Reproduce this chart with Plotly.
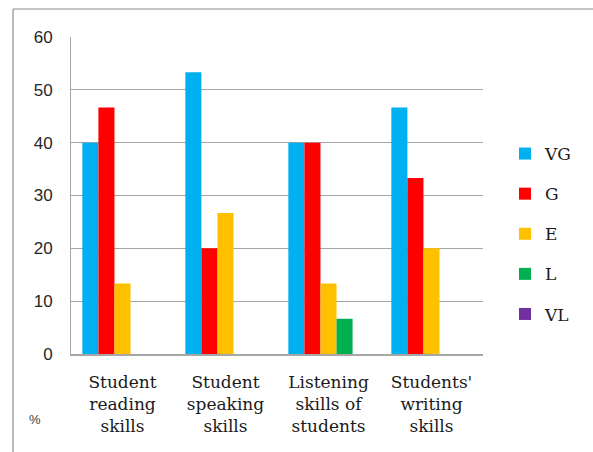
import plotly.graph_objects as go

# Skill categories (x axis) and rating levels (series)
categories = [
    "Student<br>reading<br>skills",
    "Student<br>speaking<br>skills",
    "Listening<br>skills of<br>students",
    "Students'<br>writing<br>skills",
]
levels = ["VG", "G", "E", "L", "VL"]

# Percentage of responses per level, in category order
vg = [40.0, 53.33, 40.0, 46.67]
g = [46.67, 20.0, 40.0, 33.33]
e = [13.33, 26.67, 13.33, 20.0]
l_ = [0.0, 0.0, 6.67, 0.0]
vl = [0.0, 0.0, 0.0, 0.0]

y_ticks = [0, 10, 20, 30, 40, 50, 60]

series = [vg, g, e, l_, vl]
colors = ["#00B0F0", "#FF0000", "#FFC000", "#00B050", "#7030A0"]

SERIF = "DejaVu Serif"
SANS = "Liberation Sans"

fig = go.Figure()
for name, vals, col in zip(levels, series, colors):
    fig.add_trace(go.Bar(
        x=categories, y=vals, name=name,
        marker=dict(color=col, line=dict(width=0)),
        legendgroup=name,
    ))

W, H = 593, 452
L, R, T, B = 71, 110, 37, 98
pw, ph = W - L - R, H - T - B

def px_x(p):
    return (p - L) / pw

def px_y(p):
    return (H - B - p) / ph

fig.update_layout(
    template="none",
    font=dict(family=SERIF, size=17, color="#1a1a1a"),
    width=W, height=H,
    margin=dict(l=L, r=R, t=T, b=B, pad=0),
    paper_bgcolor="white", plot_bgcolor="white",
    barmode="group", bargap=0.22, bargroupgap=0,
    showlegend=True,
    legend=dict(
        x=px_x(505), y=px_y(136), xanchor="left", yanchor="top",
        font=dict(family=SERIF, size=17, color="#1a1a1a"),
        traceorder="grouped", tracegroupgap=15,
        bgcolor="rgba(0,0,0,0)",
    ),
    xaxis=dict(
        showgrid=False, ticks="", showline=True, linecolor="#A6A6A6",
        linewidth=1.5,
        tickfont=dict(family=SERIF, size=17, color="#1a1a1a"),
        ticklabelstandoff=12,
    ),
    yaxis=dict(
        range=[0, 60], tickvals=y_ticks, showgrid=True,
        gridcolor="#A6A6A6", gridwidth=1.2, zeroline=False,
        showline=True, linecolor="#A6A6A6", linewidth=1,
        ticks="", tickfont=dict(family=SANS, size=17, color="#262626"),
        ticklabelstandoff=14,
    ),
    shapes=[
        dict(type="line", xref="paper", yref="paper",
             x0=px_x(13), x1=px_x(13), y0=px_y(9), y1=px_y(460),
             line=dict(color="#8C8C8C", width=1.2)),
        dict(type="line", xref="paper", yref="paper",
             x0=px_x(13), x1=px_x(600), y0=px_y(9), y1=px_y(9),
             line=dict(color="#8C8C8C", width=1.2)),
    ],
    annotations=[
        dict(text="%", xref="paper", yref="paper", x=px_x(35), y=px_y(419),
             showarrow=False, xanchor="center", yanchor="middle",
             font=dict(family=SANS, size=13, color="#404040")),
    ],
)

fig.write_html("out.html")
